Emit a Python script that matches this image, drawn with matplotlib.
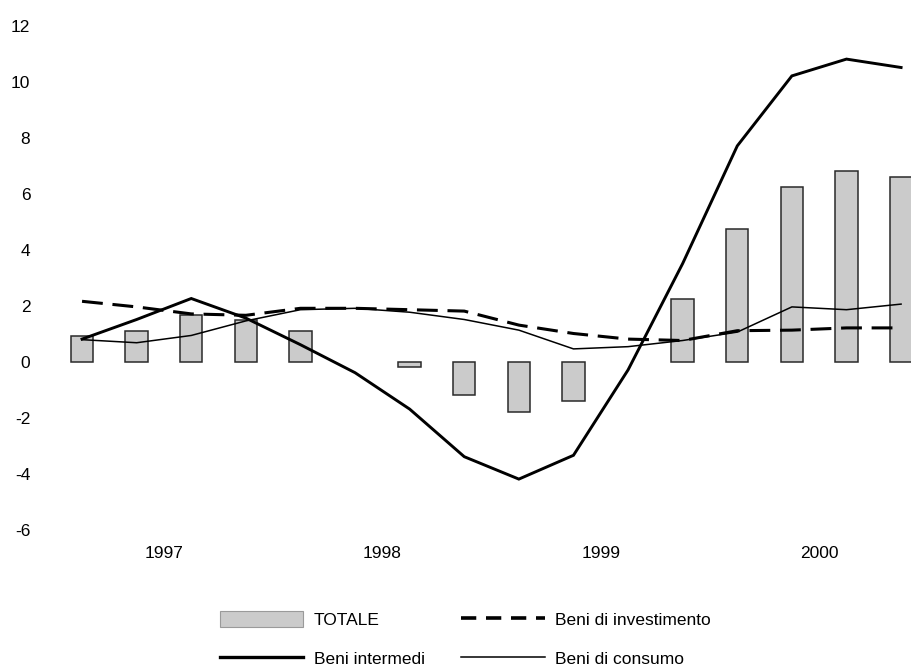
import matplotlib
matplotlib.use("Agg")
import matplotlib.pyplot as plt
import numpy as np
from matplotlib.patches import Patch
from matplotlib.lines import Line2D

plt.rcParams['font.family'] = ['Liberation Sans', 'DejaVu Sans']
plt.rcParams['lines.scale_dashes'] = False

quarters = ['1997Q1', '1997Q2', '1997Q3', '1997Q4',
            '1998Q1', '1998Q2', '1998Q3', '1998Q4',
            '1999Q1', '1999Q2', '1999Q3', '1999Q4',
            '2000Q1', '2000Q2', '2000Q3', '2000Q4']
years = ['1997', '1998', '1999', '2000']
totale = [0.9, 1.1, 1.65, 1.5, 1.1, 0.0, -0.2, -1.2, -1.8, -1.4, 0.0, 2.25, 4.75, 6.25, 6.8, 6.6]
intermedi = [0.8, 1.5, 2.25, 1.55, 0.6, -0.4, -1.7, -3.4, -4.2, -3.35, -0.3, 3.5, 7.7, 10.2, 10.8, 10.5]
investimento = [2.15, 1.95, 1.7, 1.65, 1.9, 1.9, 1.85, 1.8, 1.3, 1.0, 0.8, 0.75, 1.1, 1.12, 1.2, 1.2]
consumo = [0.78, 0.67, 0.93, 1.45, 1.85, 1.9, 1.76, 1.5, 1.12, 0.45, 0.53, 0.75, 1.05, 1.95, 1.85, 2.05]
yticks = [-6, -4, -2, 0, 2, 4, 6, 8, 10, 12]

W, H = 912, 671
fig = plt.figure(figsize=(W / 100, H / 100), dpi=100)
ax_left, ax_bottom_px, ax_top_px = 40, 543.5, 11.5
ax = fig.add_axes([ax_left / W, (H - ax_bottom_px) / H, 1 - ax_left / W, (ax_bottom_px - ax_top_px) / H])

x = np.arange(len(quarters))
tot = np.array(totale)
nz = tot != 0
bar_color = '#cbcbcb'
ax.bar(x[nz], tot[nz], width=0.41, color=bar_color, edgecolor='#2a2a2a', linewidth=1.1, zorder=2)
ax.plot(x, intermedi, color='black', lw=2.1, zorder=4, solid_joinstyle='miter')
ax.plot(x, investimento, color='black', lw=2.2, dashes=(15, 7), zorder=3)
ax.plot(x, consumo, color='black', lw=1.1, zorder=3)

ax.set_xlim(-0.77, 15.2)
ax.set_ylim(-6.5, 12.5)
ax.set_yticks(yticks)
ax.set_yticklabels([str(v) for v in yticks], fontsize=12.5)

year_pos = [np.mean([i for i, q in enumerate(quarters) if q.startswith(y)]) for y in years]
ax.set_xticks(year_pos)
ax.set_xticklabels(years, fontsize=12.5)
ax.tick_params(axis='both', length=0)
ax.tick_params(axis='y', pad=7)
ax.tick_params(axis='x', pad=2)
for s in ax.spines.values():
    s.set_visible(False)

handles = [
    Patch(facecolor=bar_color, edgecolor='#9a9a9a', linewidth=0.8),
    Line2D([0], [0], color='black', lw=2.4),
    Line2D([0], [0], color='black', lw=2.6, dashes=(11, 7)),
    Line2D([0], [0], color='black', lw=1.1),
]
labels = ['TOTALE', 'Beni intermedi', 'Beni di investimento', 'Beni di consumo']
fig.legend(handles, labels, loc='upper left', bbox_to_anchor=(220 / W, 1 - 611 / H),
           ncol=2, frameon=False, fontsize=12.5, borderpad=0, borderaxespad=0,
           handlelength=4.8, handleheight=1.0, handletextpad=0.6,
           columnspacing=2.1, labelspacing=1.28)

fig.savefig('out.png', dpi=100)
